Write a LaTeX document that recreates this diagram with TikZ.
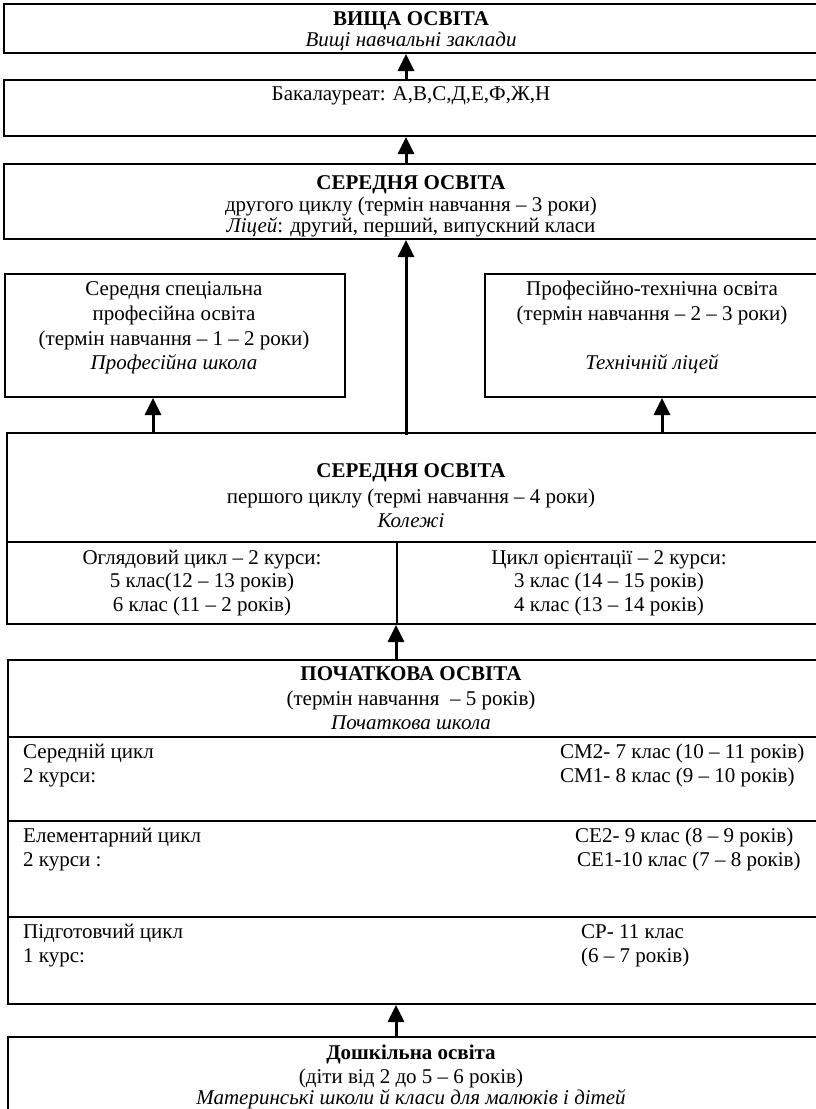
\documentclass[tikz,border=0pt]{standalone}
\usepackage{fontspec}
\setmainfont{Liberation Serif}
\usetikzlibrary{arrows.meta}
\begin{document}
\begin{tikzpicture}[x=1pt,y=-1pt,
  box/.style={draw,line width=2pt,anchor=north west,inner sep=0pt},
  txt/.style={anchor=base,inner sep=0pt,font=\fontsize{21}{25}\selectfont},
  ltxt/.style={txt,anchor=base west},
  arr/.style={line width=3pt,-{Triangle[length=17pt,width=16pt]}},
  sep/.style={line width=2pt}]
\useasboundingbox (0,0) rectangle (816,1109);
% boxes
\node[box,minimum width=817pt,minimum height=49pt] (b1) at (3,3) {};
\node[box,minimum width=817pt,minimum height=56pt] (b2) at (3,79) {};
\node[box,minimum width=817pt,minimum height=75pt] (b3) at (3,163) {};
\node[box,minimum width=340pt,minimum height=123pt] (bl) at (4,273) {};
\node[box,minimum width=340pt,minimum height=123pt] (br) at (484,273) {};
\node[box,minimum width=815pt,minimum height=191pt] (b4) at (6,432) {};
\node[box,minimum width=814pt,minimum height=344pt] (b5) at (7,659) {};
\node[box,minimum width=814pt,minimum height=80pt] (b6) at (7,1036) {};
% inner separators
\coordinate (d4) at (0,542);
\coordinate (v4) at (397,0);
\draw[sep] (b4.west |- d4) -- (b4.east |- d4);
\draw[line width=1.4pt] (v4 |- d4) -- (v4 |- b4.south);
\coordinate (r1) at (0,737);
\coordinate (r2) at (0,821);
\coordinate (r3) at (0,917);
\draw[sep] (b5.west |- r1) -- (b5.east |- r1);
\draw[sep] (b5.west |- r2) -- (b5.east |- r2);
\draw[sep] (b5.west |- r3) -- (b5.east |- r3);
% arrows
\coordinate (ax) at (406,0);
\coordinate (al) at (153,0);
\coordinate (ar) at (662,0);
\coordinate (ay) at (396,0);
\coordinate (a4top) at (406,435);
\draw[arr] (b2.north -| ax) -- (b1.south -| ax);
\draw[arr] (b3.north -| ax) -- (b2.south -| ax);
\draw[arr] (a4top) -- (b3.south -| ax);
\draw[arr] (b4.north -| al) -- (bl.south -| al);
\draw[arr] (b4.north -| ar) -- (br.south -| ar);
\draw[arr] (b5.north -| ay) -- (b4.south -| ay);
\draw[arr] (b6.north -| ay) -- (b5.south -| ay);
% texts
\node[txt] (t1a) at (411,25) {\textbf{ВИЩА ОСВІТА}};
\node[txt] (t1b) at (411,46) {\textit{Вищі навчальні заклади}};
\node[txt] (t2a) at (411,100) {Бакалауреат: А,В,С,Д,Е,Ф,Ж,Н};
\node[txt] (t3a) at (411,189) {\textbf{СЕРЕДНЯ ОСВІТА}};
\node[txt] (t3b) at (411,211) {другого циклу (термін навчання – 3 роки)};
\node[txt] (t3c) at (411,232) {\textit{Ліцей}: другий, перший, випускний класи};
\node[txt] (tla) at (174,295) {Середня спеціальна};
\node[txt] (tlb) at (174,320) {професійна освіта};
\node[txt] (tlc) at (174,345) {(термін навчання – 1 – 2 роки)};
\node[txt] (tld) at (174,369) {\textit{Професійна школа}};
\node[txt] (tra) at (652,295) {Професійно-технічна освіта};
\node[txt] (trb) at (652,320) {(термін навчання – 2 – 3 роки)};
\node[txt] (trc) at (652,369) {\textit{Технічній ліцей}};
\node[txt] (t4a) at (411,477) {\textbf{СЕРЕДНЯ ОСВІТА}};
\node[txt] (t4b) at (411,503) {першого циклу (термі навчання – 4 роки)};
\node[txt] (t4c) at (411,527) {\textit{Колежі}};
\node[txt] (t4d) at (202,564) {Оглядовий цикл – 2 курси:};
\node[txt] (t4e) at (202,587) {5 клас(12 – 13 років)};
\node[txt] (t4f) at (202,611) {6 клас (11 – 2 років)};
\node[txt] (t4g) at (609,564) {Цикл орієнтації – 2 курси:};
\node[txt] (t4h) at (609,587) {3 клас (14 – 15 років)};
\node[txt] (t4i) at (609,611) {4 клас (13 – 14 років)};
\node[txt] (t5a) at (411,680) {\textbf{ПОЧАТКОВА ОСВІТА}};
\node[txt] (t5b) at (411,705) {(термін навчання \ – 5 років)};
\node[txt] (t5c) at (411,729) {\textit{Початкова школа}};
\node[ltxt] (t5d) at (23,758) {Середній цикл};
\node[ltxt] (t5e) at (23,782) {2 курси:};
\node[ltxt] (t5f) at (560,758) {СМ2- 7 клас (10 – 11 років)};
\node[ltxt] (t5g) at (560,782) {СМ1- 8 клас (9 – 10 років)};
\node[ltxt] (t5h) at (23,842) {Елементарний цикл};
\node[ltxt] (t5i) at (23,866) {2 курси :};
\node[ltxt] (t5j) at (575,842) {СЕ2- 9 клас (8 – 9 років)};
\node[ltxt] (t5k) at (577,866) {СЕ1-10 клас (7 – 8 років)};
\node[ltxt] (t5l) at (23,938) {Підготовчий цикл};
\node[ltxt] (t5m) at (23,962) {1 курс:};
\node[ltxt] (t5n) at (581,938) {СР- 11 клас};
\node[ltxt] (t5o) at (581,962) {(6 – 7 років)};
\node[txt] (t6a) at (411,1059) {\textbf{Дошкільна освіта}};
\node[txt] (t6b) at (411,1083) {(діти від 2 до 5 – 6 років)};
\node[txt] (t6c) at (411,1104) {\textit{Материнські школи й класи для малюків і дітей}};
\end{tikzpicture}
\end{document}
